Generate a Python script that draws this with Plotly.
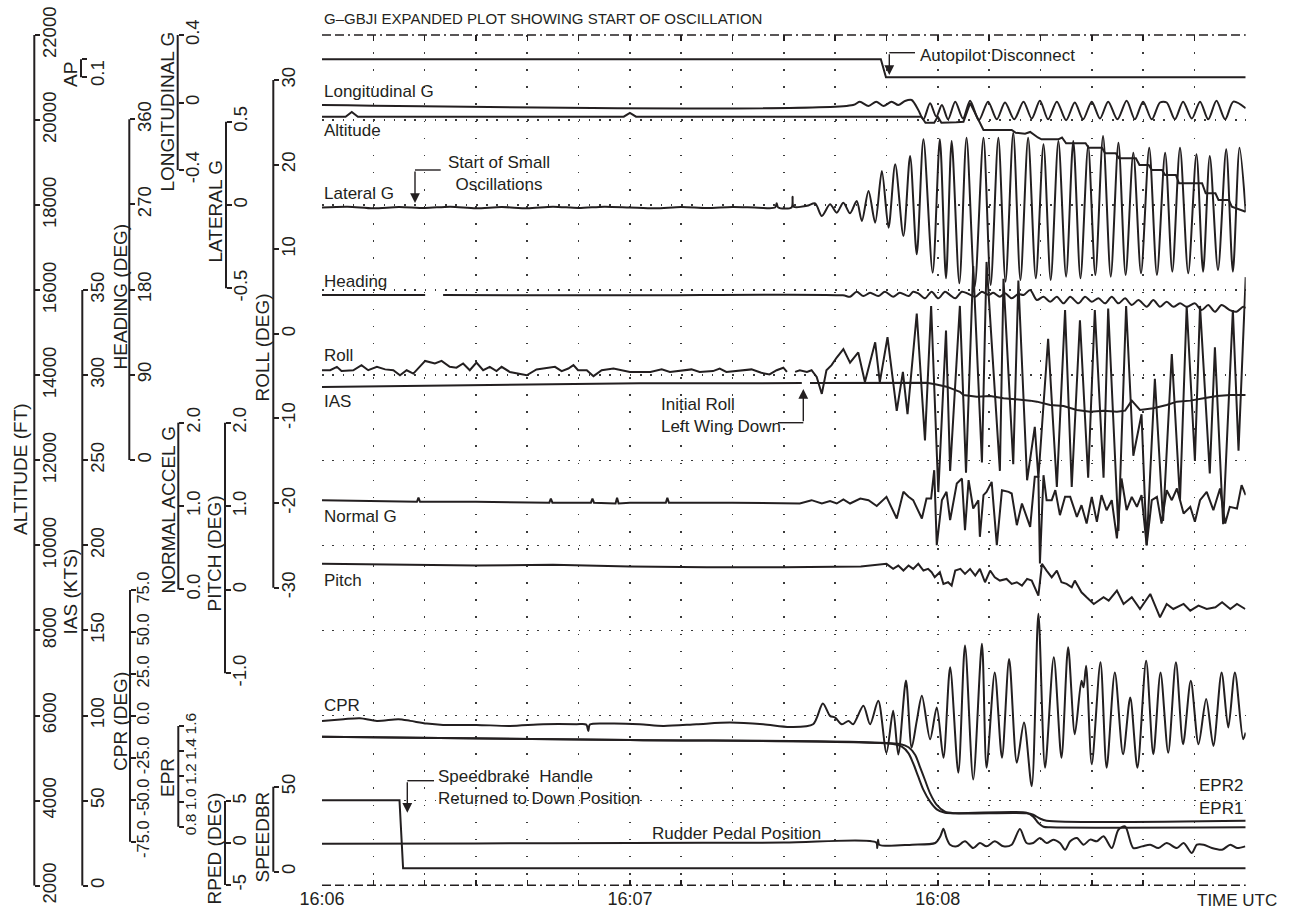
import plotly.graph_objects as go

W, H = 1291, 911
PX0, PX1 = 322.0, 1245.7      # plot area, pixels
PY0, PY1 = 35.0, 885.7
INK = '#231f20'
FONT = 'Liberation Sans, Arial, Helvetica, sans-serif'


def fx(p):
    return p / W


def fy(p):
    return 1.0 - p / H


# ---------------------------------------------------------------- data
# time in seconds after 16:06:00
TIME_TICKS = list(range(0, 181, 10))
TIME_TEXT = ['16:06', '', '', '', '', '', '16:07', '', '', '', '', '', '16:08',
             '', '', '', '', '', '']

AP_DATA = [(0, 1), (108.9, 1), (109.9, 0), (180, 0)]

LONG_G = [(0, -0.015), (103.5, -0.015), (104.8, 0.005), (106.5, -0.021), (108.0, 0.005),
          (109.4, -0.021), (111.0, 0.005), (112.3, -0.015), (113.6, 0.009), (114.9, 0.015),
          (116.2, -0.044), (117.2, -0.10), (118.5, -0.005), (119.7, -0.084), (120.8, -0.015),
          (122.0, -0.10), (123.4, 0.005), (124.9, -0.095), (126.3, 0.01), (128.0, -0.105),
          (129.8, 0.005), (131.5, -0.10), (133.1, 0.0), (134.9, -0.10), (136.7, 0.005),
          (138.3, -0.095), (139.9, 0.01), (141.5, -0.10), (143.2, 0.005), (145.0, -0.105),
          (146.7, 0.0), (148.3, -0.10), (150.0, 0.005), (151.6, -0.095), (153.2, 0.005),
          (155.0, -0.10), (156.8, 0.01), (158.4, -0.10), (160.0, 0.005), (161.7, -0.10),
          (163.3, 0.0), (164.6, 0.0), (166.2, -0.10), (167.8, 0.005), (169.5, -0.095),
          (171.1, 0.005), (172.7, -0.10), (174.3, 0.01), (176.0, -0.10), (177.6, 0.005),
          (180, -0.034)]

ALTITUDE = [(0, 20079), (4.6, 20079), (5.8, 20190), (7.0, 20079), (58.8, 20079), (60.0, 20170),
            (61.2, 20079), (116.8, 20079), (117.6, 19938), (119.3, 19938), (120.0, 20080),
            (120.7, 19938), (123.6, 19950), (125.0, 19962), (126.3, 20400), (128.9, 19766),
            (134.4, 19766), (135.2, 19700), (137.0, 19680), (138.0, 19720), (139.5, 19590),
            (140.2, 19548), (143.5, 19548), (144.2, 19590), (145.0, 19454), (148.8, 19454),
            (149.4, 19350), (152.0, 19350), (152.6, 19219), (154.7, 19219), (155.3, 19101),
            (158.6, 19101), (159.3, 18946), (161.1, 18946), (161.7, 18828), (163.7, 18828),
            (164.3, 18710), (166.4, 18710), (167.0, 18514), (171.5, 18514), (172.2, 18279),
            (174.1, 18279), (174.7, 18121), (176.7, 18121), (177.3, 17963), (179.0, 17900),
            (180, 17846)]

LAT_G = [(0, -0.015), (5, -0.01), (10, -0.02), (15, -0.012), (20, -0.018), (25, -0.01),
         (30, -0.02), (35, -0.012), (40, -0.02), (45, -0.01), (50, -0.018), (55, -0.01),
         (60, -0.015), (65, -0.02), (70, -0.012), (75, -0.018), (80, -0.012), (85, -0.016),
         (88.3, -0.015), (88.6, 0.01), (88.9, -0.015), (91.5, -0.015), (91.7, 0.05),
         (91.9, -0.01), (94.5, -0.005), (96.1, 0.01), (97.4, -0.066), (99.0, 0.004),
         (100.3, -0.046), (101.6, 0.014), (102.9, -0.05), (104.2, 0.024), (105.2, -0.096),
         (106.5, 0.084), (107.8, -0.106), (109.1, 0.204), (110.4, -0.136), (111.7, 0.244),
         (113.3, -0.186), (114.6, 0.294), (115.9, -0.296), (117.2, 0.394), (119.0, -0.406),
         (120.4, 0.394), (121.6, -0.44), (122.7, 0.384), (124.2, -0.47), (125.6, 0.404),
         (127.2, -0.49), (128.9, 0.404), (130.3, -0.48), (131.8, 0.404), (133.2, -0.46),
         (134.7, 0.434), (136.1, -0.45), (137.6, 0.404), (139.1, -0.44), (140.6, 0.364),
         (142.0, -0.45), (143.5, 0.384), (145.0, -0.43), (146.4, 0.384), (147.8, -0.44),
         (149.3, 0.354), (150.7, -0.42), (152.2, 0.414), (153.7, -0.43), (155.2, 0.374),
         (156.6, -0.42), (158.1, 0.314), (159.6, -0.41), (161.2, 0.344), (162.7, -0.42),
         (164.3, 0.314), (165.7, -0.40), (167.2, 0.344), (168.8, -0.41), (170.4, 0.304),
         (171.7, -0.40), (173.0, 0.294), (174.6, -0.39), (176.2, 0.334), (177.5, -0.40),
         (178.8, 0.344), (180, -0.04)]

HEADING = [(0, 174.3), (20.1, 174.3), (21.0, None), (23.6, 174.3), (60, 174.0), (101.5, 174.0),
           (102.9, 172.5), (104.2, 177.8), (105.5, 173.2), (106.8, 176.7), (108.4, 173.2),
           (109.7, 177.8), (111.3, 172.5), (112.6, 176.7), (114.3, 173.2), (115.2, 177.8),
           (116.2, 176.1), (117.5, 170.8), (118.8, 177.8), (120.1, 170.8), (121.4, 177.8),
           (122.4, 174.3), (123.4, 170.8), (124.7, 177.8), (126.0, 175.4), (127.3, 172.5),
           (128.6, 177.8), (129.9, 174.3), (130.8, 176.7), (132.1, 172.5), (133.1, 176.1),
           (134.4, 170.8), (135.7, 175.4), (136.7, 174.3), (138.0, 179.6), (139.3, 169.0),
           (140.6, 172.5), (141.9, 167.2), (143.2, 172.5), (144.5, 165.5), (145.8, 172.5),
           (147.4, 165.5), (148.7, 172.5), (150.0, 167.2), (151.3, 170.8), (152.6, 165.5),
           (153.9, 172.5), (155.2, 165.5), (156.5, 170.8), (157.8, 163.7), (159.1, 169.0),
           (160.7, 161.9), (162.0, 169.0), (163.3, 161.9), (164.6, 167.2), (165.9, 161.9),
           (167.2, 165.5), (168.5, 161.9), (170.1, 165.5), (171.4, 158.4), (172.7, 163.7),
           (174.0, 156.6), (175.3, 163.7), (176.9, 158.4), (178.2, 156.6), (179.5, 161.9),
           (180, 160.5)]

ROLL = [(0, -4.3), (1.6, -4.3), (2.9, -3.9), (3.8, -4.4), (6.1, -4.3), (7.7, -3.7), (9.0, -4.3),
        (10.7, -3.9), (12.3, -4.2), (13.9, -4.3), (15.2, -4.9), (16.5, -4.3), (17.8, -4.7),
        (20.1, -3.2), (22.0, -3.5), (23.3, -3.2), (24.9, -3.9), (26.2, -4.0), (27.5, -3.5),
        (28.8, -4.3), (30.1, -3.4), (31.4, -4.3), (32.7, -3.9), (34.0, -4.4), (35.0, -3.9),
        (36.6, -4.5), (39.9, -4.9), (41.8, -4.2), (45.4, -3.9), (46.7, -4.4), (48.0, -4.1),
        (49.0, -3.7), (49.9, -4.3), (51.6, -4.3), (52.9, -5.0), (54.5, -4.3), (56.8, -4.1),
        (58.5, -4.3), (60.0, -4.5), (64.0, -4.5), (66.2, -4.2), (67.8, -4.5), (72.0, -4.2),
        (73.6, -4.5), (76.2, -4.4), (77.5, -4.1), (78.8, -4.5), (83.7, -4.2), (85.6, -4.6),
        (87.2, -4.8), (88.6, -4.3), (89.9, -4.0), (90.6, -4.5), (91.4, None), (92.2, -4.5),
        (93.1, -4.3), (94.5, -4.5), (95.4, -4.3), (96.4, -5.1), (97.4, -7.1), (98.3, -4.3),
        (99.3, -3.7), (100.3, -2.8), (101.6, -1.8), (102.9, -3.4), (104.5, -2.2), (105.8, -5.7),
        (107.8, -1.0), (108.7, -5.7), (110.2, -0.4), (112.0, -9.1), (113.2, -4.5), (114.1, -9.5),
        (115.9, 2.4), (117.5, -12.6), (118.7, 3.3), (120.1, -18.7), (121.6, 0.4), (122.4, -16.2),
        (124.3, 3.3), (125.5, -16.4), (126.9, 8.0), (128.6, -15.2), (129.5, 8.5), (132.1, -16.2),
        (132.8, 6.5), (134.7, -15.4), (135.7, 6.3), (137.4, -17.3), (138.9, -11.0),
        (139.6, -17.0), (141.5, -0.6), (143.2, -18.1), (144.8, 2.8), (146.1, -18.1),
        (147.7, 1.6), (149.3, -17.0), (150.6, 2.8), (152.3, -17.0), (153.2, 3.0),
        (155.2, -23.3), (156.7, 3.3), (158.1, -14.4), (159.7, -9.5), (160.7, -25.0),
        (162.3, -5.3), (163.9, -22.1), (165.6, -2.4), (167.2, -19.7), (168.5, 3.3),
        (170.1, -15.0), (171.1, 3.3), (173.0, -16.5), (174.0, -1.6), (175.6, -22.5),
        (177.5, 2.8), (178.6, -13.8), (180, 6.7)]

IAS = [(0, 293.0), (30, 294.2), (62, 295.2), (93.5, 295.3), (94.3, None), (95.1, 295.3),
       (117.8, 295.5), (119.5, 294.6), (121.7, 293.2), (124.3, 290.2), (125.0, 288.3),
       (127.6, 287.3), (130.2, 287.7), (132.8, 286.4), (135.4, 285.8), (138.0, 285.0),
       (139.3, 284.4), (141.9, 282.4), (144.5, 281.8), (147.1, 279.5), (149.7, 278.5),
       (152.3, 279.1), (154.9, 278.5), (156.5, 279.1), (157.8, 285.0), (159.4, 279.5),
       (162.0, 280.5), (164.6, 282.4), (166.6, 284.4), (169.2, 285.0), (171.8, 286.4),
       (174.4, 287.7), (177.0, 288.3), (180, 288.3)]

NORMAL_G = [(0, 1.07), (10, 1.06), (18.5, 1.05), (18.8, 1.10), (19.1, 1.05), (30, 1.05),
            (44.3, 1.04), (44.6, 1.09), (44.9, 1.04), (52.4, 1.04), (52.7, 1.09), (53.0, 1.04),
            (57.2, 1.03), (57.5, 1.10), (57.8, 1.03), (60, 1.04), (67.0, 1.04), (67.3, 1.10),
            (67.6, 1.04), (80, 1.04), (93.1, 1.03), (95.4, 1.07), (97.4, 1.03), (99.0, 1.06),
            (100.3, 1.03), (101.6, 1.08), (102.9, 1.03), (104.9, 1.09), (106.5, 1.07),
            (108.1, 1.00), (110.0, 1.11), (112.0, 0.85), (113.3, 1.17), (114.3, 1.11),
            (115.2, 1.07), (116.9, 0.85), (117.8, 1.09), (118.7, 1.09), (119.3, 1.43),
            (119.8, 0.53), (120.8, 1.07), (121.7, 1.17), (122.4, 0.83), (123.7, 1.27),
            (124.7, 1.33), (125.3, 0.71), (126.0, 1.31), (126.9, 0.97), (127.9, 1.07),
            (128.2, 0.63), (128.9, 1.13), (129.5, 1.17), (130.5, 1.29), (131.5, 0.53),
            (132.5, 1.19), (133.8, 1.17), (134.4, 1.15), (135.4, 0.77), (136.4, 1.03),
            (138.0, 0.75), (138.9, 1.35), (139.6, 1.35), (139.9, 0.31), (140.6, 1.37),
            (141.2, 1.07), (142.2, 1.07), (142.9, 1.19), (143.8, 0.89), (144.8, 1.11),
            (145.8, 1.11), (147.1, 0.87), (148.0, 1.01), (149.0, 0.79), (150.0, 1.11),
            (151.0, 0.81), (151.9, 1.13), (152.9, 0.95), (153.9, 1.07), (154.9, 0.61),
            (155.8, 1.33), (156.8, 0.95), (157.8, 1.11), (158.8, 0.99), (159.7, 1.13),
            (160.7, 0.53), (161.7, 1.07), (162.7, 1.11), (163.6, 0.79), (164.6, 1.19),
            (165.6, 1.07), (166.6, 1.21), (167.9, 0.91), (169.2, 0.99), (170.1, 0.81),
            (171.1, 1.07), (172.4, 1.17), (173.7, 0.95), (175.0, 1.21), (176.0, 0.79),
            (176.9, 0.99), (178.3, 0.97), (179.2, 1.25), (180, 1.13)]

PITCH = [(0, 0.31), (15, 0.30), (30, 0.29), (45, 0.30), (60, 0.28), (75, 0.27), (90, 0.27),
         (105, 0.28), (110.0, 0.31), (111.3, 0.25), (112.3, 0.29), (113.3, 0.23), (114.3, 0.29),
         (115.2, 0.25), (116.2, 0.31), (117.2, 0.23), (118.1, 0.25), (118.8, 0.21), (119.4, 0.15),
         (120.4, 0.21), (121.1, 0.07), (122.0, 0.09), (122.7, 0.05), (123.4, 0.23), (124.4, 0.25),
         (125.3, 0.19), (126.3, 0.25), (127.3, 0.17), (128.2, 0.25), (129.2, 0.09), (130.2, 0.23),
         (131.1, 0.15), (132.1, 0.11), (133.4, 0.13), (134.4, 0.07), (135.4, 0.09), (136.4, 0.05),
         (137.4, 0.13), (138.3, 0.11), (139.6, -0.07), (140.3, 0.31), (141.2, 0.23),
         (142.2, 0.15), (143.2, 0.23), (144.1, 0.09), (145.1, 0.07), (146.1, 0.03), (146.7, 0.11),
         (148.0, -0.03), (149.0, -0.09), (150.4, -0.17), (152.3, -0.09), (153.3, -0.13),
         (154.9, -0.01), (156.2, -0.17), (157.8, -0.09), (159.4, -0.23), (161.4, -0.05),
         (163.3, -0.33), (164.6, -0.17), (165.9, -0.23), (167.9, -0.17), (169.2, -0.25),
         (170.8, -0.19), (172.4, -0.23), (174.1, -0.21), (175.4, -0.15), (177.0, -0.23),
         (178.3, -0.17), (179.9, -0.23)]

CPR = [(0, -3.0), (4.2, -2.0), (7.4, -1.4), (10.7, -3.0), (14.9, -2.0), (17.2, -3.0),
       (20.4, -4.6), (23.6, -5.4), (30.1, -5.4), (36.6, -6.0), (43.1, -5.0), (49.6, -5.0),
       (51.5, -5.2), (51.9, -9.0), (52.2, -5.2), (56.1, -4.6), (61.9, -5.0), (66.5, -6.0),
       (73.0, -5.0), (79.5, -4.0), (86.0, -5.0), (91.2, -6.6), (95.7, -5.0), (97.6, 7.4),
       (99.0, 0.0), (100.0, -1.0), (101.3, -5.0), (102.6, -3.0), (103.5, -5.0), (105.5, 6.0),
       (106.8, -5.0), (108.4, 9.0), (110.0, -22.0), (111.3, 3.0), (112.3, -23.0), (113.8, 21.0),
       (114.9, -19.0), (115.9, -3.0), (116.9, 12.0), (118.5, -14.0), (119.8, 5.0),
       (121.1, -25.0), (122.4, 28.9), (124.0, -33.9), (125.3, 41.9), (126.9, -37.9),
       (128.6, 42.9), (129.5, -30.9), (131.1, 25.9), (132.5, -24.9), (133.9, 33.9),
       (135.4, -27.9), (136.8, -4.0), (138.3, -41.9), (139.6, 60.9), (140.9, -30.9),
       (142.6, 34.9), (144.1, -24.9), (145.4, 40.9), (146.7, -10.9), (148.0, 20.9),
       (148.4, 17.0), (148.9, 29.9), (150.0, -28.9), (151.7, 31.9), (152.9, -30.9),
       (154.5, 25.9), (156.1, -22.9), (157.5, 10.9), (158.9, -30.9), (160.6, 32.9),
       (162.0, -22.9), (163.4, 25.9), (164.9, -22.0), (166.4, 31.9), (167.8, -16.9),
       (169.3, 20.9), (170.8, -16.9), (172.3, 10.0), (173.7, -17.9), (175.3, 25.9),
       (176.6, -7.0), (177.9, 25.9), (179.5, -13.9), (180, -10.0)]

EPR1 = [(0, 1.515), (60, 1.489), (111.3, 1.457), (113.0, 1.436), (114.3, 1.383), (115.2, 1.304),
        (116.2, 1.197), (117.2, 1.092), (118.5, 0.999), (119.8, 0.938), (121.4, 0.911),
        (137.3, 0.911), (138.6, 0.88), (139.6, 0.83), (140.6, 0.80), (141.9, 0.795), (180, 0.795)]

EPR2 = [(0, 1.515), (60, 1.489), (112.6, 1.457), (114.3, 1.431), (115.6, 1.370), (116.5, 1.277),
        (117.5, 1.171), (118.5, 1.065), (119.8, 0.973), (121.4, 0.919), (123.4, 0.907),
        (137.3, 0.907), (138.6, 0.895), (139.9, 0.865), (141.2, 0.848), (180, 0.848)]

RPED = [(0, -0.1), (30, -0.05), (60, 0.0), (90, 0.05), (108.0, 0.05), (108.2, -0.6),
        (108.35, 0.4), (108.6, -0.2), (115, -0.2), (119.5, 0.0), (120.5, 0.8), (121.1, 1.7),
        (121.7, 0.6), (122.4, -0.2), (123.7, -0.4), (125.3, 0.2), (126.9, -0.6), (128.2, 0.0),
        (129.5, -0.4), (131.1, 0.2), (132.8, -0.4), (134.4, -0.2), (136.0, 1.66), (137.3, 0.0),
        (138.6, 0.0), (139.9, 0.6), (141.2, 0.0), (142.5, 0.4), (143.8, 0.0), (144.8, -0.8),
        (145.8, 0.2), (147.1, 0.6), (148.4, -0.2), (149.7, 0.4), (151.0, 0.2), (152.3, 0.8),
        (153.9, -0.6), (155.2, 1.58), (156.5, 1.97), (158.1, -0.6), (159.8, -0.4),
        (161.4, -0.2), (163.0, -0.6), (164.6, 0.0), (166.6, -0.6), (167.9, 0.0), (169.5, -1.19),
        (170.5, -0.2), (171.8, -0.2), (173.4, -0.6), (175.4, -0.8), (177.0, -0.2),
        (178.3, -0.6), (179.9, -0.4)]

SPEEDBR = [(0, 42), (15.1, 42), (15.8, 2), (180, 2)]

# ---------------------------------------------------------------- axes (scale calibration)
# key, axis line x (px), (value, px, value, px), tick values, tick text, tick font size
AXES = [
    ('alt', 34.3, (2000, 885.7, 22000, 35.0), list(range(2000, 22001, 2000)), None, 18.5),
    ('ap', 81.0, (0, 77.3, 1, 59.3), [0, 1], ['', ''], 18.5),
    ('ias', 82.3, (0, 885.7, 350, 290.0), list(range(0, 351, 50)), None, 18.5),
    ('hdg', 129.3, (0, 460.0, 360, 119.3), [0, 90, 180, 270, 360], None, 18.5),
    ('cpr', 130.0, (-75, 841.7, 75, 590.0), [-75, -50, -25, 0, 25, 50, 75],
     ['-75.0', '-50.0', '-25.0', '0.0', '25.0', '50.0', '75.0'], 16.5),
    ('lon', 177.7, (-0.4, 170.0, 0.4, 35.0), [-0.4, 0, 0.4], ['-0.4', '0', '0.4'], 18.5),
    ('ng', 178.3, (0, 589.3, 2, 422.7), [0, 1, 2], ['0.0', '1.0', '2.0'], 18.5),
    ('epr', 178.3, (0.8, 826.7, 1.6, 726.0), [0.8, 1.0, 1.2, 1.4, 1.6],
     ['0.8', '1.0', '1.2', '1.4', '1.6'], 15.5),
    ('lat', 226.0, (-0.5, 288.3, 0.5, 121.7), [-0.5, 0, 0.5], ['-0.5', '0', '0.5'], 18.5),
    ('pitch', 225.0, (-1, 673.3, 2, 422.7), [-1, 0, 1, 2], ['-1.0', '0', '1.0', '2.0'], 18.5),
    ('rped', 225.0, (-5, 885.0, 5, 801.0), [-5, 0, 5], ['-5', '0', '5'], 18.5),
    ('roll', 273.3, (-30, 587.7, 30, 80.0), [-30, -20, -10, 0, 10, 20, 30], None, 18.5),
    ('sb', 273.3, (0, 871.7, 50, 786.7), [0, 50], ['0', '50'], 18.5),
]

AXIS_TITLES = [('ALTITUDE (FT)', 20, 469), ('AP', 71, 75), ('IAS (KTS)', 69.5, 592),
               ('HEADING (DEG)', 119.5, 297), ('CPR (DEG)', 120, 722),
               ('LONGITUDINAL G', 167.5, 112), ('NORMAL ACCEL G', 167.5, 510),
               ('EPR', 167, 778), ('LATERAL G', 214.5, 212), ('PITCH (DEG)', 213.5, 554),
               ('RPED (DEG)', 213.5, 849), ('ROLL (DEG)', 262.5, 348), ('SPEEDBR', 261.5, 837)]

TRACES = [
    ('AP', AP_DATA, 'ap', 'linear'),
    ('Longitudinal G', LONG_G, 'lon', 'spline'),
    ('Altitude', ALTITUDE, 'alt', 'linear'),
    ('Lateral G', LAT_G, 'lat', 'spline'),
    ('Heading', HEADING, 'hdg', 'spline'),
    ('Roll', ROLL, 'roll', 'linear'),
    ('IAS', IAS, 'ias', 'linear'),
    ('Normal G', NORMAL_G, 'ng', 'linear'),
    ('Pitch', PITCH, 'pitch', 'linear'),
    ('CPR', CPR, 'cpr', 'spline'),
    ('EPR1', EPR1, 'epr', 'spline'),
    ('EPR2', EPR2, 'epr', 'spline'),
    ('RPED', RPED, 'rped', 'spline'),
    ('SPEEDBR', SPEEDBR, 'sb', 'linear'),
]

TRACE_LABELS = [('Longitudinal G', 322, 91.5), ('Altitude', 322, 131), ('Lateral G', 322, 193.5),
                ('Heading', 322, 281.5), ('Roll', 322, 356), ('IAS', 322, 401),
                ('Normal G', 322, 516.5), ('Pitch', 322, 580), ('CPR', 322, 705),
                ('Rudder Pedal Position', 650, 833.5), ('EPR2', 1196.5, 785.5),
                ('EPR1', 1196.5, 808.3)]

NOTES = [('Autopilot Disconnect', 918, 56, 'left'),
         ('Start of Small<br>Oscillations', 499, 173.5, 'center'),
         ('Initial Roll<br>Left Wing Down', 659, 415, 'left'),
         ('Speedbrake  Handle<br>Returned to Down Position', 436, 787, 'left')]

# arrows: (tail x, tail y, tip y, connector end x)
ARROWS = [(889.3, 52.7, 75.0, 915.0), (415.0, 170.0, 203.0, 440.7),
          (803.3, 422.7, 389.0, 778.0), (407.3, 780.7, 812.7, 434.0)]


# ---------------------------------------------------------------- build
def axis_range(cal):
    v1, p1, v2, p2 = cal
    s = (v2 - v1) / (p2 - p1)
    return [v1 + (PY1 - p1) * s, v1 + (PY0 - p1) * s]


fig = go.Figure()
axis_ref = {}
layout = {}
for i, (key, lx, cal, vals, text, fsize) in enumerate(AXES):
    n = '' if i == 0 else str(i + 1)
    axis_ref[key] = 'y' + n
    a = dict(range=axis_range(cal), anchor='free', position=fx(lx), side='right',
             showline=False, zeroline=False, showgrid=False,
             ticks='outside', ticklen=5, tickwidth=2, tickcolor=INK,
             tickmode='array', tickvals=vals,
             ticktext=text if text is not None else [str(v) for v in vals],
             tickangle=-90, ticklabelstandoff=-7,
             tickfont=dict(size=fsize, color=INK, family=FONT),
             automargin=False, fixedrange=True)
    if i == 0:
        a.update(domain=[fy(PY1), fy(PY0)], showgrid=True, gridcolor='#3a3a3a',
                 gridwidth=1.6, griddash='1.6px,8.66px')
    else:
        a.update(overlaying='y')
    layout['yaxis' + n] = a

for name, pairs, key, shape in TRACES:
    fig.add_trace(go.Scatter(
        x=[p[0] for p in pairs], y=[p[1] for p in pairs], name=name, mode='lines',
        line=dict(color=INK, width=2, shape=shape, smoothing=0.8 if shape == 'spline' else None),
        yaxis=axis_ref[key], connectgaps=False, hoverinfo='skip'))

shapes = []
# axis brackets
for key, lx, cal, vals, text, fsize in AXES:
    shapes.append(dict(type='line', xref='paper', yref=axis_ref[key], x0=fx(lx), x1=fx(lx),
                       y0=min(vals), y1=max(vals), line=dict(color=INK, width=2)))
# dashed frame top and bottom
for yy in (PY0, 885.2):
    shapes.append(dict(type='line', xref='paper', yref='paper', x0=fx(PX0), x1=fx(PX1),
                       y0=fy(yy), y1=fy(yy),
                       line=dict(color=INK, width=1.6, dash='9px,4px,9px,4px,2px,4px')))
# arrow connectors
for tx, ty, tipy, ex in ARROWS:
    shapes.append(dict(type='line', xref='paper', yref='paper', x0=fx(tx), x1=fx(ex),
                       y0=fy(ty), y1=fy(ty), line=dict(color=INK, width=1.4)))

ann = []
for t, x, y in AXIS_TITLES:
    ann.append(dict(text=t, x=fx(x), y=fy(y), xref='paper', yref='paper', showarrow=False,
                    textangle=-90, xanchor='center', yanchor='middle',
                    font=dict(size=19, color=INK, family=FONT)))
ann.append(dict(text='0.1', x=fx(97.5), y=fy(73.5), xref='paper', yref='paper',
                showarrow=False, textangle=-90, xanchor='center', yanchor='middle',
                font=dict(size=18.5, color=INK, family=FONT)))
for t, x, y in TRACE_LABELS:
    ann.append(dict(text=t, x=fx(x), y=fy(y), xref='paper', yref='paper',
                    showarrow=False, xanchor='left', yanchor='middle',
                    font=dict(size=17, color=INK, family=FONT)))
for t, x, y, al in NOTES:
    ann.append(dict(text=t, x=fx(x), y=fy(y), xref='paper', yref='paper',
                    showarrow=False, xanchor=al, yanchor='middle', align=al,
                    font=dict(size=17, color=INK, family=FONT)))
for tx, ty, tipy, ex in ARROWS:
    ann.append(dict(text='', x=fx(tx), y=fy(tipy), xref='paper', yref='paper',
                    showarrow=True, ax=0, ay=ty - tipy, arrowhead=2, arrowsize=1.4,
                    arrowwidth=1.4, arrowcolor=INK, standoff=0, startstandoff=0))
ann.append(dict(text='TIME UTC', x=fx(1279), y=fy(900), xref='paper', yref='paper',
                showarrow=False, xanchor='right', yanchor='middle',
                font=dict(size=17, color=INK, family=FONT)))
ann.append(dict(text='G\u2013GBJI EXPANDED PLOT SHOWING START OF OSCILLATION', x=fx(322),
                y=fy(18), xref='paper', yref='paper', showarrow=False, xanchor='left',
                yanchor='middle', font=dict(size=15, color=INK, family=FONT)))

fig.update_layout(
    width=W, height=H, autosize=False, showlegend=False,
    margin=dict(l=0, r=0, t=0, b=0, pad=0),
    paper_bgcolor='white', plot_bgcolor='white',
    font=dict(family=FONT, color=INK),
    xaxis=dict(domain=[fx(PX0), fx(PX1)], range=[0, 180], anchor='y',
               tickmode='array', tickvals=TIME_TICKS, ticktext=TIME_TEXT,
               ticks='inside', ticklen=6, tickwidth=1.5, tickcolor=INK, mirror='ticks',
               showline=False, zeroline=False, showgrid=True, gridcolor='#3a3a3a',
               gridwidth=1.6, griddash='1.6px,15.5px',
               tickfont=dict(size=18, color=INK, family=FONT), automargin=False,
               fixedrange=True),
    shapes=shapes, annotations=ann,
    **layout)

fig.write_html('out.html', config={'displayModeBar': False, 'staticPlot': True},
               post_script="document.body.style.margin='0px';"
                           "document.body.style.overflow='hidden';")
